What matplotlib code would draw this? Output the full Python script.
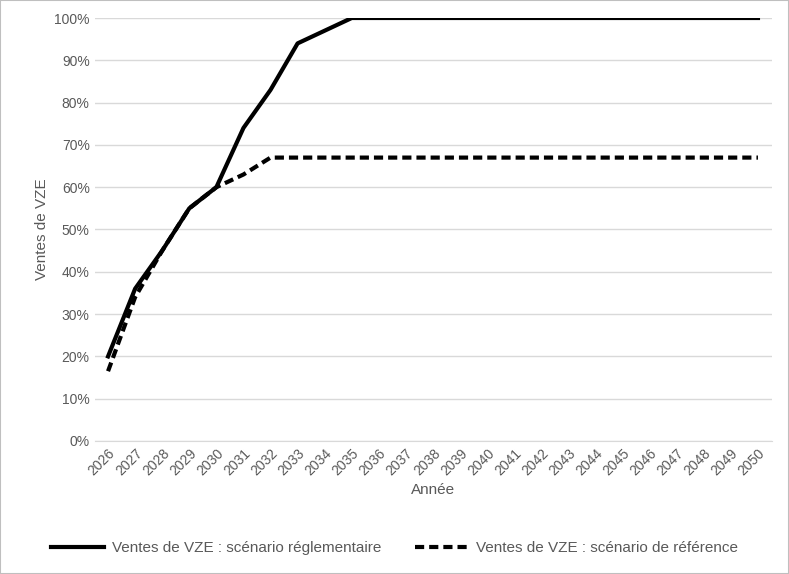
import matplotlib
matplotlib.use("Agg")
import matplotlib.pyplot as plt
from matplotlib.ticker import PercentFormatter
from matplotlib.patches import Rectangle

plt.rcParams['font.family'] = ['Liberation Sans', 'DejaVu Sans']

years = list(range(2026, 2051))
reg = [20, 36, 45, 55, 60, 74, 83, 94, 97] + [100] * 16
ref = [16.5, 34, 45, 55, 60, 63, 67] + [67] * 18

fig = plt.figure(figsize=(7.89, 5.74), dpi=100)
ax = fig.add_axes([94.5/789, 1-441/574, (771.5-94.5)/789, (441-18)/574])
ax.plot(years, reg, color='black', lw=3, label='Ventes de VZE : scénario réglementaire')
ax.plot(years, ref, color='black', lw=3, ls=(0, (2.2, 1.2)), label='Ventes de VZE : scénario de référence')
ax.set_xlim(2025.5, 2050.5)
ax.set_ylim(0, 100)
ax.set_yticks(range(0, 101, 10))
ax.yaxis.set_major_formatter(PercentFormatter(decimals=0))
ax.set_xticks(years)
ax.set_xticklabels([str(y) for y in years], rotation=45, ha='right', rotation_mode='anchor')
ax.grid(axis='y', color='#d9d9d9', lw=1)
ax.set_axisbelow(True)
for s in ['top', 'right', 'left']:
    ax.spines[s].set_visible(False)
ax.spines['bottom'].set_color('#d9d9d9')
ax.tick_params(axis='both', length=0, labelsize=10, colors='#595959')
ax.set_xlabel('Année', fontsize=11, color='#595959')
ax.set_ylabel('Ventes de VZE', fontsize=11, color='#595959')
fig.legend(loc='center', bbox_to_anchor=(0.5, 1-548/574), ncol=2, frameon=False,
           fontsize=11, handlelength=3.5, handletextpad=0.5, columnspacing=2.2,
           labelcolor='#595959')
fig.patches.append(Rectangle((0, 0), 1, 1, transform=fig.transFigure, fill=False,
                             edgecolor='#bfbfbf', lw=1.5))
fig.savefig('out.png', dpi=100)
